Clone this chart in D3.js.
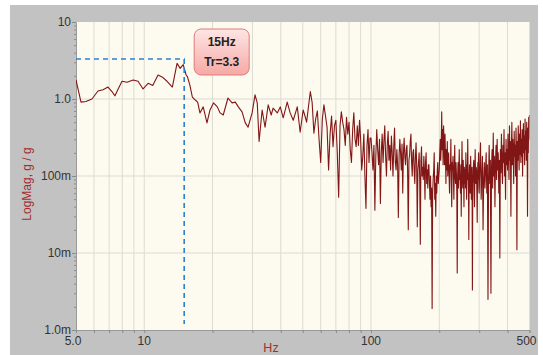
<!DOCTYPE html>
<html>
<head>
<meta charset="utf-8">
<script src="https://cdn.jsdelivr.net/npm/d3@7"></script>
<style>
  body { margin: 0; background: #fff; }
  svg { display: block; font-family: 'Liberation Sans', Arial, sans-serif; }
</style>
</head>
<body>
<div id="chart"></div>
<script>
const width = 543;
const height = 355;
const plot = { left: 76, right: 529.5, top: 22, bottom: 330 };
const lineColor = '#7a0a0a';
const titleColor = '#a3302f';

// Axis ticks and grid
const xTicks = [5, 10, 100, 500];
const xTickLabels = ['5.0', '10', '100', '500'];
const xGrid = [6, 7, 8, 9, 10, 20, 30, 40, 50, 60, 70, 80, 90, 100, 200, 300, 400];
const yTicks = [10, 1, 0.1, 0.01, 0.001];
const yTickLabels = ['10', '1.0', '100m', '10m', '1.0m'];
const yGrid = [1, 0.1, 0.01];

// 5 - 50 Hz, sparse points
const freqLow = [5.0, 5.26, 5.53, 5.88, 6.25, 6.58, 6.92, 7.2, 7.43, 7.67, 7.98, 8.4, 8.93, 9.39, 9.88,
  10.4, 10.9, 11.5, 12.1, 12.6, 13.3, 13.95, 14.4, 14.85, 15.3, 15.5, 15.9, 16.3, 16.8, 17.2, 17.6,
  18.2, 18.9, 19.5, 20.2, 21, 21.6, 22.3, 23.4, 24.4, 25.2, 26, 27, 27.9, 28.7, 29.9, 30.8, 31.5,
  32.1, 33.1, 34.1, 35.2, 36.3, 37, 38.6, 39.8, 41, 42.7, 44, 45.4, 47.3, 48.7, 50.2];
const magLow = [1.77, 0.91, 0.93, 1.0, 1.27, 1.32, 1.43, 1.25, 1.1, 1.35, 1.7, 1.65, 1.77, 1.7, 1.35,
  1.6, 1.5, 2.05, 1.9, 1.7, 1.43, 2.9, 2.5, 2.8, 2.05, 1.95, 1.5, 1.06, 0.97, 0.91, 0.66,
  0.79, 0.49, 0.72, 0.89, 0.79, 0.66, 0.62, 1.03, 0.89, 0.91, 0.79, 0.68, 0.49, 0.43, 0.66, 1.13, 0.89,
  0.28, 0.72, 0.43, 0.84, 0.62, 0.76, 0.66, 0.79, 0.57, 0.91, 0.66, 0.53, 0.79, 0.37, 0.72];

// 51 - 99 Hz, 1 Hz lines
const freqMid = d3.range(51, 100, 1);
const magMid = [0.62, 0.5, 0.8, 1.25, 0.9, 0.36, 0.55, 0.7, 0.3, 0.15,
  0.55, 0.84, 0.6, 0.43, 0.12, 0.35, 0.6, 0.24, 0.45, 0.53,
  0.2, 0.053, 0.45, 0.68, 0.5, 0.4, 0.25, 0.58, 0.35, 0.5,
  0.22, 0.15, 0.4, 0.66, 0.3, 0.24, 0.45, 0.25, 0.53, 0.3,
  0.12, 0.18, 0.35, 0.1, 0.038, 0.25, 0.4, 0.15, 0.31];

// 100 - 299 Hz, 1 Hz lines
const freqHighA = d3.range(100, 300, 1);
const magHighA = [
  0.31, 0.2, 0.12, 0.25, 0.036, 0.18, 0.4, 0.22, 0.14, 0.3,
  0.044, 0.2, 0.35, 0.15, 0.28, 0.45, 0.18, 0.1, 0.26, 0.38,
  0.16, 0.25, 0.12, 0.33, 0.2, 0.1, 0.24, 0.42, 0.15, 0.12,
  0.22, 0.14, 0.029, 0.18, 0.3, 0.2, 0.12, 0.26, 0.06, 0.2,
  0.31, 0.18, 0.14, 0.22, 0.25, 0.12, 0.02, 0.16, 0.19, 0.28,
  0.35, 0.15, 0.1, 0.2, 0.22, 0.12, 0.08, 0.18, 0.27, 0.14,
  0.022, 0.12, 0.15, 0.2, 0.09, 0.013, 0.16, 0.24, 0.1, 0.13,
  0.09, 0.18, 0.12, 0.05, 0.15, 0.2, 0.08, 0.12, 0.07, 0.14,
  0.14, 0.08, 0.05, 0.1, 0.04, 0.07, 0.0019, 0.06, 0.09, 0.12,
  0.2, 0.05, 0.08, 0.03, 0.1, 0.06, 0.12, 0.15, 0.08, 0.1,
  0.12, 0.2, 0.3, 0.16, 0.25, 0.68, 0.22, 0.4, 0.14, 0.45,
  0.25, 0.14, 0.35, 0.18, 0.08, 0.22, 0.12, 0.28, 0.1, 0.15,
  0.2, 0.1, 0.06, 0.14, 0.12, 0.3, 0.08, 0.04, 0.15, 0.12,
  0.18, 0.09, 0.05, 0.13, 0.25, 0.1, 0.08, 0.15, 0.11, 0.06,
  0.0055, 0.1, 0.15, 0.07, 0.12, 0.22, 0.09, 0.1, 0.06, 0.14,
  0.03, 0.12, 0.28, 0.09, 0.07, 0.16, 0.11, 0.04, 0.13, 0.08,
  0.12, 0.07, 0.2, 0.1, 0.05, 0.14, 0.09, 0.3, 0.11, 0.07,
  0.015, 0.1, 0.14, 0.08, 0.06, 0.18, 0.12, 0.05, 0.09, 0.13,
  0.0033, 0.08, 0.09, 0.14, 0.16, 0.06, 0.04, 0.11, 0.22, 0.1,
  0.08, 0.13, 0.12, 0.06, 0.025, 0.1, 0.15, 0.09, 0.2, 0.07];

// 300 - 500 Hz, 2 Hz lines
const freqHighB = d3.range(300, 501, 2);
const magHighB = [
  0.06, 0.14, 0.27, 0.05, 0.1, 0.18, 0.02, 0.09, 0.15, 0.07,
  0.12, 0.2, 0.06, 0.14, 0.0025, 0.1, 0.25, 0.08, 0.16, 0.003,
  0.13, 0.22, 0.07, 0.36, 0.1, 0.18, 0.04, 0.15, 0.25, 0.09,
  0.3, 0.12, 0.2, 0.06, 0.16, 0.0086, 0.22, 0.11, 0.35, 0.14,
  0.08, 0.25, 0.15, 0.4, 0.1, 0.2, 0.05, 0.3, 0.14, 0.22,
  0.12, 0.35, 0.2, 0.09, 0.45, 0.16, 0.28, 0.03, 0.22, 0.5,
  0.14, 0.3, 0.2, 0.08, 0.38, 0.18, 0.25, 0.1, 0.42, 0.2,
  0.011, 0.28, 0.16, 0.45, 0.22, 0.12, 0.35, 0.19, 0.52, 0.15,
  0.3, 0.18, 0.4, 0.1, 0.25, 0.48, 0.2, 0.33, 0.14, 0.55,
  0.22, 0.38, 0.16, 0.5, 0.25, 0.03, 0.42, 0.2, 0.58, 0.3,
  0.62];

// Marker
const markerFreq = 15;
const markerTr = 3.3;
const markerBottom = 0.0012;
const markerLines = ['15Hz', 'Tr=3.3'];

const zip = (fs, vs) => fs.slice(0, Math.min(fs.length, vs.length)).map((f, i) => ({ f, v: vs[i] }));
const data = zip(freqLow, magLow).concat(
  zip(freqMid, magMid),
  zip(freqHighA, magHighA),
  zip(freqHighB, magHighB),
);

const x = d3.scaleLog().domain([5, 500]).range([plot.left, plot.right]);
const y = d3.scaleLog().domain([0.001, 10]).range([plot.bottom, plot.top]);

const svg = d3.select('#chart').append('svg')
  .attr('width', width)
  .attr('height', height);

// Grey panel and cream plot area
svg.append('rect').attr('x', 10).attr('y', 5).attr('width', 528).attr('height', 350).attr('fill', '#c2c2c2');
svg.append('rect')
  .attr('x', plot.left).attr('y', plot.top)
  .attr('width', plot.right - plot.left).attr('height', plot.bottom - plot.top)
  .attr('fill', '#fdfaef');

const defs = svg.append('defs');
defs.append('clipPath').attr('id', 'plot-clip')
  .append('rect')
  .attr('x', plot.left).attr('y', plot.top)
  .attr('width', plot.right - plot.left).attr('height', plot.bottom - plot.top);
const grad = defs.append('linearGradient').attr('id', 'box-fill')
  .attr('x1', 0).attr('y1', 0).attr('x2', 0).attr('y2', 1);
grad.append('stop').attr('offset', '0%').attr('stop-color', '#fde6e4');
grad.append('stop').attr('offset', '100%').attr('stop-color', '#f6a9a6');

// Grid lines
svg.append('g')
  .selectAll('line')
  .data(xGrid)
  .enter()
  .append('line')
  .attr('x1', (d) => x(d)).attr('x2', (d) => x(d))
  .attr('y1', plot.top).attr('y2', plot.bottom)
  .attr('stroke', '#dedbd3')
  .attr('stroke-width', 1);

svg.append('g')
  .selectAll('line')
  .data(yGrid)
  .enter()
  .append('line')
  .attr('x1', plot.left).attr('x2', plot.right)
  .attr('y1', (d) => y(d)).attr('y2', (d) => y(d))
  .attr('stroke', '#dedbd3')
  .attr('stroke-width', 1);

// Axes
const xAxis = svg.append('g')
  .attr('transform', `translate(0,${plot.bottom})`)
  .call(d3.axisBottom(x).tickValues(xGrid.concat([5, 500])).tickSize(3).tickFormat(''));
const yAxis = svg.append('g')
  .attr('transform', `translate(${plot.left},0)`)
  .call(d3.axisLeft(y).tickValues(y.ticks()).tickSize(2).tickFormat(''));
[xAxis, yAxis].forEach((a) => {
  a.select('.domain').attr('stroke', '#9a9a9a');
  a.selectAll('.tick line').attr('stroke', '#8a8a8a');
});
// Major y ticks a bit longer
yAxis.selectAll('.tick line').attr('x2', (d) => (yTicks.includes(d) ? -4 : -2));

// Tick labels
svg.append('g')
  .selectAll('text')
  .data(yTicks)
  .enter()
  .append('text')
  .attr('x', 71)
  .attr('y', (d) => y(d))
  .attr('dy', '0.35em')
  .attr('text-anchor', 'end')
  .attr('font-size', 12)
  .attr('fill', '#333')
  .text((d, i) => yTickLabels[i]);

svg.append('g')
  .selectAll('text')
  .data(xTicks)
  .enter()
  .append('text')
  .attr('x', (d) => x(d) - (d === 5 ? 3 : d === 500 ? 3 : 0))
  .attr('y', plot.bottom + 15)
  .attr('text-anchor', 'middle')
  .attr('font-size', 12)
  .attr('fill', '#333')
  .text((d, i) => xTickLabels[i]);

// Axis titles
svg.append('text')
  .attr('x', 271).attr('y', 352)
  .attr('text-anchor', 'middle')
  .attr('font-size', 12.5)
  .attr('fill', titleColor)
  .text('Hz');

svg.append('text')
  .attr('transform', 'translate(31,184) rotate(-90)')
  .attr('text-anchor', 'middle')
  .attr('font-size', 12)
  .attr('fill', titleColor)
  .text('LogMag, g / g');

// Transmissibility trace
svg.append('path')
  .datum(data)
  .attr('clip-path', 'url(#plot-clip)')
  .attr('fill', 'none')
  .attr('stroke', lineColor)
  .attr('stroke-width', 1.1)
  .attr('stroke-opacity', 0.95)
  .attr('stroke-linejoin', 'round')
  .attr('d', d3.line().x((d) => x(d.f)).y((d) => y(d.v)));

// Resonance marker: dashed guide lines
svg.append('path')
  .attr('fill', 'none')
  .attr('stroke', '#2b80cf')
  .attr('stroke-width', 1.6)
  .attr('stroke-dasharray', '5,4')
  .attr('d', `M${x(5)},${y(markerTr)} L${x(markerFreq)},${y(markerTr)} L${x(markerFreq)},${y(markerBottom)}`);

// Callout box
const box = svg.append('g').attr('transform', `translate(${x(markerFreq) + 10},29)`);
box.append('rect')
  .attr('width', 55).attr('height', 46)
  .attr('rx', 7)
  .attr('fill', 'url(#box-fill)')
  .attr('stroke', '#e27a78')
  .attr('stroke-width', 1);
box.selectAll('text')
  .data(markerLines)
  .enter()
  .append('text')
  .attr('x', 27.5)
  .attr('y', (_, i) => 17 + i * 20)
  .attr('text-anchor', 'middle')
  .attr('font-size', 12)
  .attr('font-weight', 'bold')
  .attr('fill', '#222')
  .text((d) => d);
</script>
</body>
</html>
